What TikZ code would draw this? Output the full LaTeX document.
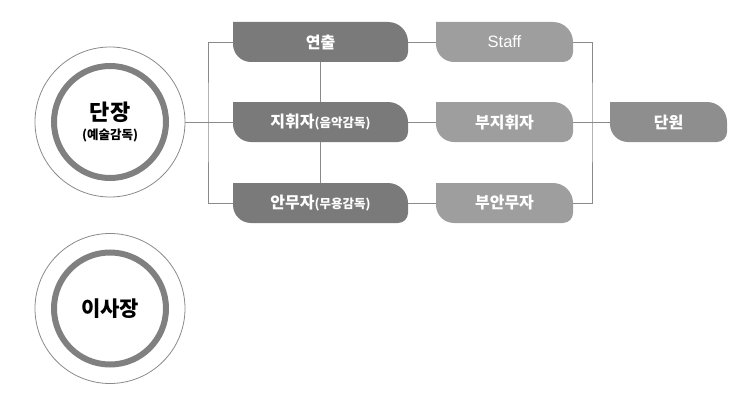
\documentclass[tikz,border=0pt]{standalone}
\usepackage{fontspec}
\usepackage{xcolor}
\usepackage{tikz}
\usetikzlibrary{positioning}
\newfontfamily\kr{Noto Sans CJK KR}
\newfontfamily\lat{Liberation Sans}
\definecolor{orgDark}{HTML}{7A7A7A}
\definecolor{orgLight}{HTML}{9E9E9E}
\definecolor{orgMid}{HTML}{8E8E8E}
\definecolor{orgRing}{HTML}{808080}
\definecolor{orgLine}{HTML}{8A8A8A}

\begin{document}
\begin{tikzpicture}[
  x=1pt, y=1pt,
  tab/.style={
    rectangle, inner sep=0pt, minimum height=40pt,
    text=white, font=\kr\bfseries\fontsize{16}{18}\selectfont,
    path picture={
      \fill[#1] (path picture bounding box.north west)
        -- ([xshift=-20pt]path picture bounding box.north east)
        arc[start angle=90, end angle=0, radius=20pt]
        -- ([yshift=10pt]path picture bounding box.south east)
        arc[start angle=0, end angle=-90, radius=10pt]
        -- ([xshift=18pt]path picture bounding box.south west)
        arc[start angle=270, end angle=180, radius=18pt]
        -- cycle;
    }
  },
  chief/.style={
    circle, draw=orgLine, line width=0.8pt,
    minimum size=150pt, inner sep=0pt, align=center,
    font=\kr\bfseries,
    path picture={
      \draw[orgRing, line width=6pt]
        (path picture bounding box.center) circle[radius=56pt];
    }
  },
  conn/.style={orgLine, line width=0.8pt}
]
\useasboundingbox (0,0) rectangle (734,-404);

% Heads
\node[chief] (boss) at (110,-122)
  {{\fontsize{22}{24}\selectfont 단장}\\[5pt]{\fontsize{12.5}{14}\selectfont (예술감독)}};
\node[chief] (chair) at (110,-308.5)
  {\fontsize{21}{24}\selectfont 이사장};

% First column
\node[tab=orgDark, minimum width=175pt] (director) at (320.5,-42) {연출};
\node[tab=orgDark, minimum width=175pt] (conductor) at (320.5,-122)
  {지휘자{\fontsize{12.5}{14}\selectfont(음악감독)}};
\node[tab=orgDark, minimum width=175pt] (choreo) at (320.5,-203)
  {안무자{\fontsize{12.5}{14}\selectfont(무용감독)}};

% Second column
\node[tab=orgLight, minimum width=137pt, font=\lat\fontsize{16.5}{18}\selectfont]
  (staff) at (504.5,-42) {Staff};
\node[tab=orgLight, minimum width=137pt] (subcond) at (504.5,-122) {부지휘자};
\node[tab=orgLight, minimum width=137pt] (subchoreo) at (504.5,-203) {부안무자};

% Members
\node[tab=orgMid, minimum width=117pt] (members) at (668.5,-122) {단원};

% Connectors
\coordinate (lsplit) at (208,-122);
\coordinate (rsplit) at (592,-122);
\draw[conn] (boss.east) -- (conductor.west);
\draw[conn] (director.west) -| (lsplit) |- (choreo.west);
\draw[conn] (director.south) -- (conductor.north);
\draw[conn] (conductor.south) -- (choreo.north);
\draw[conn] (director.east) -- (staff.west);
\draw[conn] (conductor.east) -- (subcond.west);
\draw[conn] (choreo.east) -- (subchoreo.west);
\draw[conn] (staff.east) -| (rsplit) |- (subchoreo.east);
\draw[conn] (subcond.east) -- (members.west);

\end{tikzpicture}
\end{document}
